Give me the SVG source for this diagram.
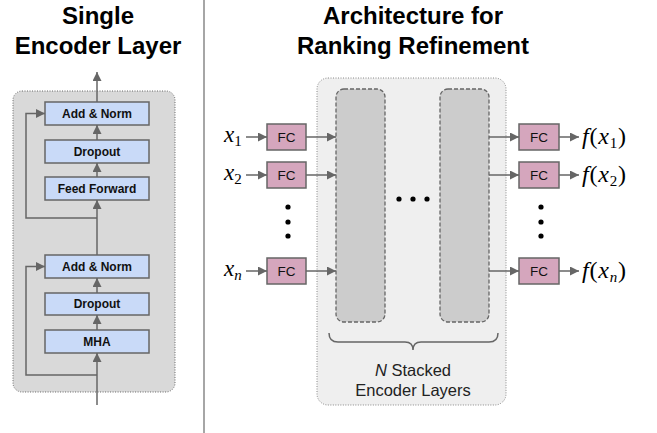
<svg xmlns="http://www.w3.org/2000/svg" width="657" height="433" viewBox="0 0 657 433">
<style>
.title{font-family:"Liberation Sans",Arial,sans-serif;font-weight:bold;font-size:24px;fill:#000;text-anchor:middle}
.blk rect{fill:#c9daf8;stroke:#666;stroke-width:1.5}
.blk text{font-family:"Liberation Sans",Arial,sans-serif;font-weight:bold;font-size:12px;fill:#111;text-anchor:middle}
.fc rect{fill:#d5a6bd;stroke:#666;stroke-width:1.5}
.fc text{font-family:"Liberation Sans",Arial,sans-serif;font-size:13.5px;fill:#111;text-anchor:middle}
.ln{fill:none;stroke:#666;stroke-width:1.5}
.arr{fill:none;stroke:#666;stroke-width:1.5;marker-end:url(#ah)}
.math{font-family:"Liberation Serif","Times New Roman",serif;font-size:23px;fill:#000}
.omath{font-family:"Liberation Serif","Times New Roman",serif;font-size:24px;fill:#000;letter-spacing:0.8px}
.it{font-style:italic}
.col{fill:#cccccc;stroke:#666;stroke-width:1.3;stroke-dasharray:4 2}
.lbl{font-family:"Liberation Sans",Arial,sans-serif;font-size:16.5px;fill:#222;text-anchor:middle}
</style>
<defs>
<marker id="ah" viewBox="0 0 10 10" refX="10" refY="5" markerWidth="6" markerHeight="6" orient="auto" markerUnits="strokeWidth">
<path d="M0,0 L10,5 L0,10 z" fill="#666"/>
</marker>
</defs>
<rect width="657" height="433" fill="#fff"/>
<line x1="204" y1="0" x2="204" y2="433" stroke="#888" stroke-width="1.5"/>
<text class="title" x="98" y="24">Single</text>
<text class="title" x="98" y="54">Encoder Layer</text>
<text class="title" x="413" y="24">Architecture for</text>
<text class="title" x="413" y="54">Ranking Refinement</text>

<g id="encoder-panel">
<rect x="13" y="91" width="162" height="301" rx="9" fill="#d9d9d9" stroke="#666" stroke-width="1" stroke-dasharray="1 1.5"/>
</g>
<g id="add-norm-2" class="blk"><rect x="45" y="102" width="104" height="23"/><text x="97" y="117.5">Add &amp; Norm</text></g>
<g id="dropout-2" class="blk"><rect x="45" y="140" width="104" height="23"/><text x="97" y="155.5">Dropout</text></g>
<g id="feed-forward" class="blk"><rect x="45" y="177" width="104" height="23"/><text x="97" y="192.5">Feed Forward</text></g>
<g id="add-norm-1" class="blk"><rect x="45" y="255" width="104" height="23"/><text x="97" y="270.5">Add &amp; Norm</text></g>
<g id="dropout-1" class="blk"><rect x="45" y="293" width="104" height="22"/><text x="97" y="308">Dropout</text></g>
<g id="mha" class="blk"><rect x="45" y="330" width="104" height="23"/><text x="97" y="345.5">MHA</text></g>

<g id="big-panel">
<rect x="317" y="78" width="189" height="327" rx="11" fill="#efefef" stroke="#888" stroke-width="1" stroke-dasharray="1 1.5"/>
</g>
<g id="encoder-col-1"><rect class="col" x="336" y="89" width="49" height="233" rx="8"/></g>
<g id="encoder-col-n"><rect class="col" x="440" y="89" width="49" height="233" rx="8"/></g>
<g id="hdots" fill="#000"><circle cx="399" cy="199" r="2.6"/><circle cx="413" cy="199" r="2.6"/><circle cx="427" cy="199" r="2.6"/></g>
<g id="vdots-left" fill="#000"><circle cx="288" cy="207" r="2.6"/><circle cx="288" cy="222" r="2.6"/><circle cx="288" cy="236" r="2.6"/></g>
<g id="vdots-right" fill="#000"><circle cx="541" cy="207" r="2.6"/><circle cx="541" cy="222" r="2.6"/><circle cx="541" cy="236" r="2.6"/></g>

<g id="fc-in-1" class="fc"><rect x="267" y="124" width="39" height="26"/><text x="286.5" y="141.8">FC</text></g>
<g id="fc-in-2" class="fc"><rect x="267" y="162" width="39" height="26"/><text x="286.5" y="179.8">FC</text></g>
<g id="fc-in-n" class="fc"><rect x="267" y="258" width="39" height="26"/><text x="286.5" y="275.8">FC</text></g>
<g id="fc-out-1" class="fc"><rect x="519" y="124" width="40" height="26"/><text x="539" y="141.8">FC</text></g>
<g id="fc-out-2" class="fc"><rect x="519" y="162" width="40" height="26"/><text x="539" y="179.8">FC</text></g>
<g id="fc-out-n" class="fc"><rect x="519" y="258" width="40" height="26"/><text x="539" y="275.8">FC</text></g>

<g id="in-labels" class="math">
<text x="224" y="142"><tspan class="it">x</tspan><tspan font-size="15" dy="4">1</tspan></text>
<text x="224" y="180"><tspan class="it">x</tspan><tspan font-size="15" dy="4">2</tspan></text>
<text x="224" y="276"><tspan class="it">x</tspan><tspan class="it" font-size="15" dy="4">n</tspan></text>
</g>
<g id="out-labels" class="omath">
<text x="582" y="144"><tspan class="it">f</tspan>(<tspan class="it">x</tspan><tspan font-size="15" dy="4">1</tspan><tspan dy="-4">)</tspan></text>
<text x="582" y="182"><tspan class="it">f</tspan>(<tspan class="it">x</tspan><tspan font-size="15" dy="4">2</tspan><tspan dy="-4">)</tspan></text>
<text x="582" y="278"><tspan class="it">f</tspan>(<tspan class="it">x</tspan><tspan class="it" font-size="15" dy="4">n</tspan><tspan dy="-4">)</tspan></text>
</g>

<g id="brace-label">
<path class="ln" d="M329,333 Q329,342 338,342 L405,342 Q413,342 413,350 Q413,342 421,342 L489,342 Q498,342 498,333"/>
<text class="lbl" x="413" y="376"><tspan font-style="italic">N</tspan> Stacked</text>
<text class="lbl" x="413" y="396">Encoder Layers</text>
</g>

<g id="connectors">
<line class="arr" x1="97" y1="405" x2="97" y2="353"/>
<line class="arr" x1="97" y1="330" x2="97" y2="315"/>
<line class="arr" x1="97" y1="293" x2="97" y2="278"/>
<line class="arr" x1="97" y1="255" x2="97" y2="200"/>
<line class="arr" x1="97" y1="177" x2="97" y2="163"/>
<line class="arr" x1="97" y1="140" x2="97" y2="125"/>
<line class="arr" x1="97" y1="102" x2="97" y2="72"/>
<polyline class="arr" points="97,375 26,375 26,266.5 45,266.5"/>
<polyline class="arr" points="97,218 26,218 26,113.5 45,113.5"/>
<line class="arr" x1="246" y1="137" x2="267" y2="137"/>
<line class="arr" x1="246" y1="175" x2="267" y2="175"/>
<line class="arr" x1="246" y1="271" x2="267" y2="271"/>
<line class="arr" x1="306" y1="137" x2="336" y2="137"/>
<line class="arr" x1="306" y1="175" x2="336" y2="175"/>
<line class="arr" x1="306" y1="271" x2="336" y2="271"/>
<line class="arr" x1="489" y1="137" x2="519" y2="137"/>
<line class="arr" x1="489" y1="175" x2="519" y2="175"/>
<line class="arr" x1="489" y1="271" x2="519" y2="271"/>
<line class="arr" x1="559" y1="137" x2="579" y2="137"/>
<line class="arr" x1="559" y1="175" x2="579" y2="175"/>
<line class="arr" x1="559" y1="271" x2="579" y2="271"/>
</g>
</svg>
